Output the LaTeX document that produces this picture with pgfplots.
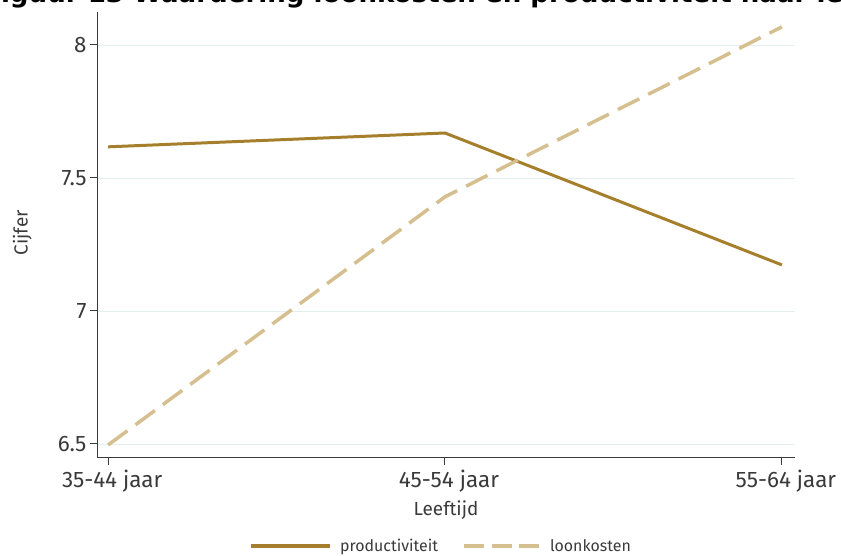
\documentclass[border=0pt]{standalone}
\usepackage{pgfplots}
\pgfplotsset{compat=1.18}
\usepackage{fontspec}
\setmainfont{Fira Sans}
\newfontfamily\titlefont{DejaVu Sans}
\definecolor{prod}{HTML}{A57F2C}
\definecolor{loon}{HTML}{D6BF8F}
\definecolor{gridc}{HTML}{E2EFEF}
\definecolor{axc}{HTML}{3A3A3A}
\begin{document}
\begin{tikzpicture}[x=1bp,y=1bp]
\useasboundingbox (0,0) rectangle (841,556);
\node[anchor=base west, inner sep=0pt, font=\titlefont\fontsize{26.2}{31}\selectfont\bfseries] at (-17,553) {Figuur 13 Waardering loonkosten en productiviteit naar leeftijd};
\begin{axis}[
  at={(97bp,98bp)}, anchor=south west,
  scale only axis, width=698bp, height=446bp,
  xmin=-0.033, xmax=2.039, ymin=6.447, ymax=8.124,
  axis x line*=bottom, axis y line*=left,
  axis line style={axc, line width=1pt, -},
  tick style={axc, line width=1pt},
  tick align=outside, major tick length=7bp,
  xtick={0,1,2}, xticklabels={35-44 jaar,45-54 jaar,55-64 jaar},
  ytick={6.5,7,7.5,8}, yticklabels={6.5,7,7.5,8},
  ymajorgrids, grid style={gridc, line width=0.8pt},
  ticklabel style={font=\fontsize{22.5}{26}\selectfont, text=axc},
  xticklabel style={yshift=-1bp, xshift=4bp},
  xlabel={Leeftijd}, ylabel={Cijfer},
  label style={font=\fontsize{19}{22}\selectfont, text=axc},
  xlabel style={at={(axis description cs:0.5,0)}, anchor=center, yshift=-52bp},
  ylabel style={at={(axis description cs:-0.107,0.505)}, anchor=center},
  legend style={at={(0.5,0)}, anchor=center, yshift=-88bp, xshift=-5bp, draw=none, fill=none,
    legend columns=2, font=\fontsize{16}{19}\selectfont, text=axc,
    /tikz/every odd column/.append style={column sep=6bp},
    /tikz/every even column/.append style={column sep=22bp},
    nodes={inner sep=2bp}},
  legend cell align=left,
  clip=false,
]
\addplot[prod, line width=3pt, legend image code/.code={\draw[prod, line width=4pt] (0bp,0bp) -- (79bp,0bp);}] coordinates {(0,7.617) (1,7.669) (2,7.173)};
\addlegendentry{productiviteit}
\addplot[loon, line width=3.5pt, dash pattern=on 24bp off 10bp, legend image code/.code={\draw[loon, line width=4pt, dash pattern=on 20bp off 7.5bp] (0bp,0bp) -- (76bp,0bp);}] coordinates {(0,6.496) (1,7.429) (2,8.068)};
\addlegendentry{loonkosten}
\end{axis}
\end{tikzpicture}
\end{document}
